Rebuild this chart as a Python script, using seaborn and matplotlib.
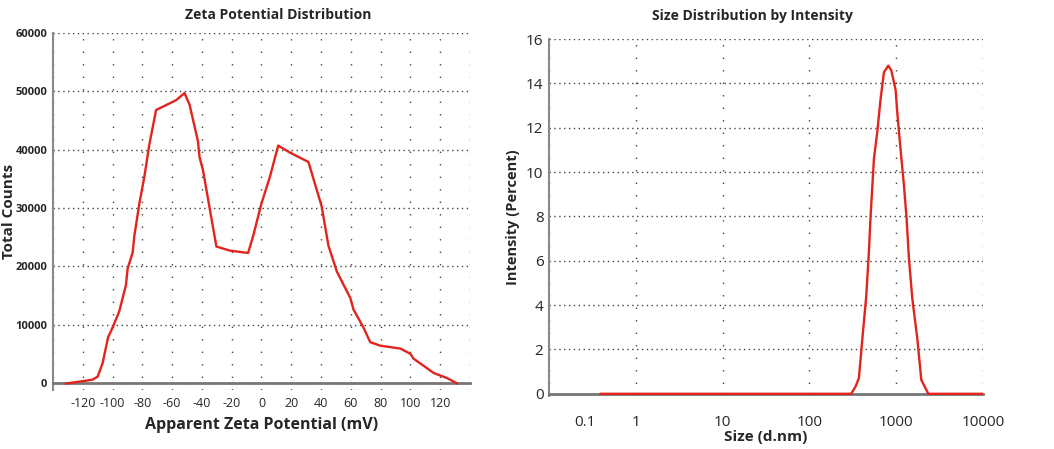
import matplotlib
matplotlib.use("Agg")
import matplotlib.pyplot as plt
import matplotlib.ticker as mticker
import seaborn as sns
import pandas as pd

# Zeta potential curve (mV, total counts)
zeta_mv = [-131.5, -113.5, -110, -106.7, -103, -100, -95.5, -91, -89.9, -86.5,
           -85.4, -82, -78.7, -75.3, -70.8, -57.3, -51.7, -48.3, -42.7, -41.6,
           -39.3, -30.3, -21.3, -9, -5.6, 0, 5.6, 11.2, 19.1, 31.5,
           40.4, 44.9, 50.6, 59.6, 61.8, 68.5, 73, 79.8, 93.3, 100,
           102, 115.7, 124.7, 131.5]
zeta_counts = [-100, 560, 1100, 3400, 7850, 9500, 12300, 16800, 19600, 22400,
               25200, 30800, 35300, 40900, 46800, 48500, 49700, 47700, 41500, 38700,
               36500, 23400, 22700, 22300, 25200, 30800, 35300, 40700, 39500, 37900,
               30300, 23600, 19100, 14600, 12600, 9500, 7000, 6400, 5900, 5000,
               4200, 1700, 840, -100]

# Size distribution by intensity (d.nm, percent)
size_nm = [0.39, 303, 340, 371, 405, 451, 484, 506, 553, 604, 660, 721, 809, 876,
           983, 1027, 1122, 1226, 1316, 1400, 1530, 1747, 1943, 2340, 10000]
intensity = [0, 0, 0.33, 0.7, 2.4, 4.4, 6.4, 8.0, 10.6, 11.8, 13.3, 14.5, 14.8, 14.6,
             13.7, 12.7, 11.0, 9.4, 7.9, 6.1, 4.3, 2.5, 0.63, 0, 0]

zeta_ticks = list(range(-140, 141, 20))
zeta_labels = ["" if abs(t) == 140 else str(t) for t in zeta_ticks]
count_ticks = [0, 10000, 20000, 30000, 40000, 50000, 60000]
size_ticks = [0.1, 1, 10, 100, 1000, 10000]
size_labels = ["0.1", "1", "10", "100", "1000", "10000"]
pct_ticks = [0, 2, 4, 6, 8, 10, 12, 14, 16]

sns.set_style("white")
plt.rcParams['font.family'] = ['Open Sans', 'DejaVu Sans']

RED = "#e3241d"
GRID = "#444444"
SPINE = "#8a8a8a"

fig = plt.figure(figsize=(10.54, 4.49), dpi=100)
ax1 = fig.add_axes([0.0503, 0.1314, 0.3956, 0.795])
ax2 = fig.add_axes([0.5209, 0.118, 0.4118, 0.795])

# left: zeta potential
df1 = pd.DataFrame({"mv": zeta_mv, "counts": zeta_counts})
sns.lineplot(data=df1, x="mv", y="counts", ax=ax1, color=RED, lw=1.7,
             sort=False, estimator=None, zorder=3)
ax1.set_xlim(-140, 140)
ax1.set_ylim(-1200, 60000)
ax1.set_xticks(zeta_ticks)
ax1.set_xticklabels(zeta_labels)
ax1.set_yticks(count_ticks)
ax1.set_yticklabels([str(t) for t in count_ticks])
ax1.xaxis.set_minor_locator(mticker.MultipleLocator(10))
ax1.yaxis.set_minor_locator(mticker.MultipleLocator(5000))
ax1.grid(axis="y", which="major", color=GRID, ls=(0, (1, 2.5)), lw=1.0)
ax1.grid(axis="x", which="major", color=GRID, ls=(0, (1, 8)), lw=1.0)
ax1.tick_params(axis="both", which="both", direction="inout", color=SPINE)
ax1.tick_params(axis="x", which="major", length=8, width=1.2, labelsize=9, pad=6)
ax1.tick_params(axis="x", which="minor", length=6, width=1.0)
ax1.tick_params(axis="y", which="major", length=4, width=1.2, labelsize=8, pad=2)
ax1.tick_params(axis="y", which="minor", length=4, width=1.2)
for lab in ax1.get_yticklabels():
    lab.set_fontweight("bold")
ax1.set_title("Zeta Potential Distribution", fontsize=10, fontweight="bold", pad=10, x=0.54)
ax1.set_xlabel("Apparent Zeta Potential (mV)", fontsize=11.5, fontweight="bold", labelpad=5)
ax1.set_ylabel("Total Counts", fontsize=11, fontweight="bold")
ax1.yaxis.set_label_coords(-0.089, 0.5)
for side in ["top", "right"]:
    ax1.spines[side].set_visible(False)
ax1.spines["left"].set_color(SPINE)
ax1.spines["left"].set_linewidth(1.5)
ax1.spines["bottom"].set_color("#777777")
ax1.spines["bottom"].set_linewidth(2)
ax1.spines["bottom"].set_position(("data", 0))

# right: size distribution
df2 = pd.DataFrame({"size": size_nm, "pct": intensity})
sns.lineplot(data=df2, x="size", y="pct", ax=ax2, color=RED, lw=1.7,
             sort=False, estimator=None, zorder=3)
ax2.set_xscale("log")
ax2.set_xlim(0.1, 10000)
ax2.set_ylim(-0.1, 16)
ax2.set_xticks(size_ticks)
ax2.set_xticklabels([""] + size_labels[1:])
ax2.xaxis.set_minor_locator(mticker.LogLocator(base=10, subs=range(2, 10)))
ax2.xaxis.set_minor_formatter(mticker.NullFormatter())
ax2.set_yticks(pct_ticks)
ax2.yaxis.set_minor_locator(mticker.MultipleLocator(1))
ax2.grid(axis="y", which="major", color=GRID, ls=(0, (1, 2.5)), lw=1.0)
ax2.grid(axis="x", which="major", color=GRID, ls=(0, (1, 8)), lw=1.0)
ax2.grid(axis="x", which="minor", visible=False)
ax2.tick_params(axis="both", which="both", direction="inout", color=SPINE)
ax2.tick_params(axis="x", which="major", length=8, width=1.2, labelsize=11, pad=11)
ax2.tick_params(axis="x", which="minor", length=5, width=1.0)
ax2.tick_params(axis="y", which="major", length=4, width=1.2, labelsize=11, pad=2)
ax2.tick_params(axis="y", which="minor", length=4, width=1.2)
# the "0.1" label sits to the right of its tick in the original instrument plot
ax2.annotate(size_labels[0], xy=(size_ticks[0], 0), xycoords=("data", "axes fraction"),
             xytext=(26, -14), textcoords="offset points", ha="center", va="top",
             fontsize=11, color="#262626")
ax2.set_title("Size Distribution by Intensity", fontsize=10, fontweight="bold", pad=14, x=0.468)
ax2.set_xlabel("Size (d.nm)", fontsize=11, fontweight="bold", labelpad=0)
ax2.set_ylabel("Intensity (Percent)", fontsize=10.5, fontweight="bold", labelpad=4)
for side in ["top", "right"]:
    ax2.spines[side].set_visible(False)
ax2.spines["left"].set_color(SPINE)
ax2.spines["left"].set_linewidth(1.5)
ax2.spines["bottom"].set_color("#777777")
ax2.spines["bottom"].set_linewidth(2)
ax2.spines["bottom"].set_position(("data", 0))

fig.savefig("out.png", dpi=100, facecolor="white")
